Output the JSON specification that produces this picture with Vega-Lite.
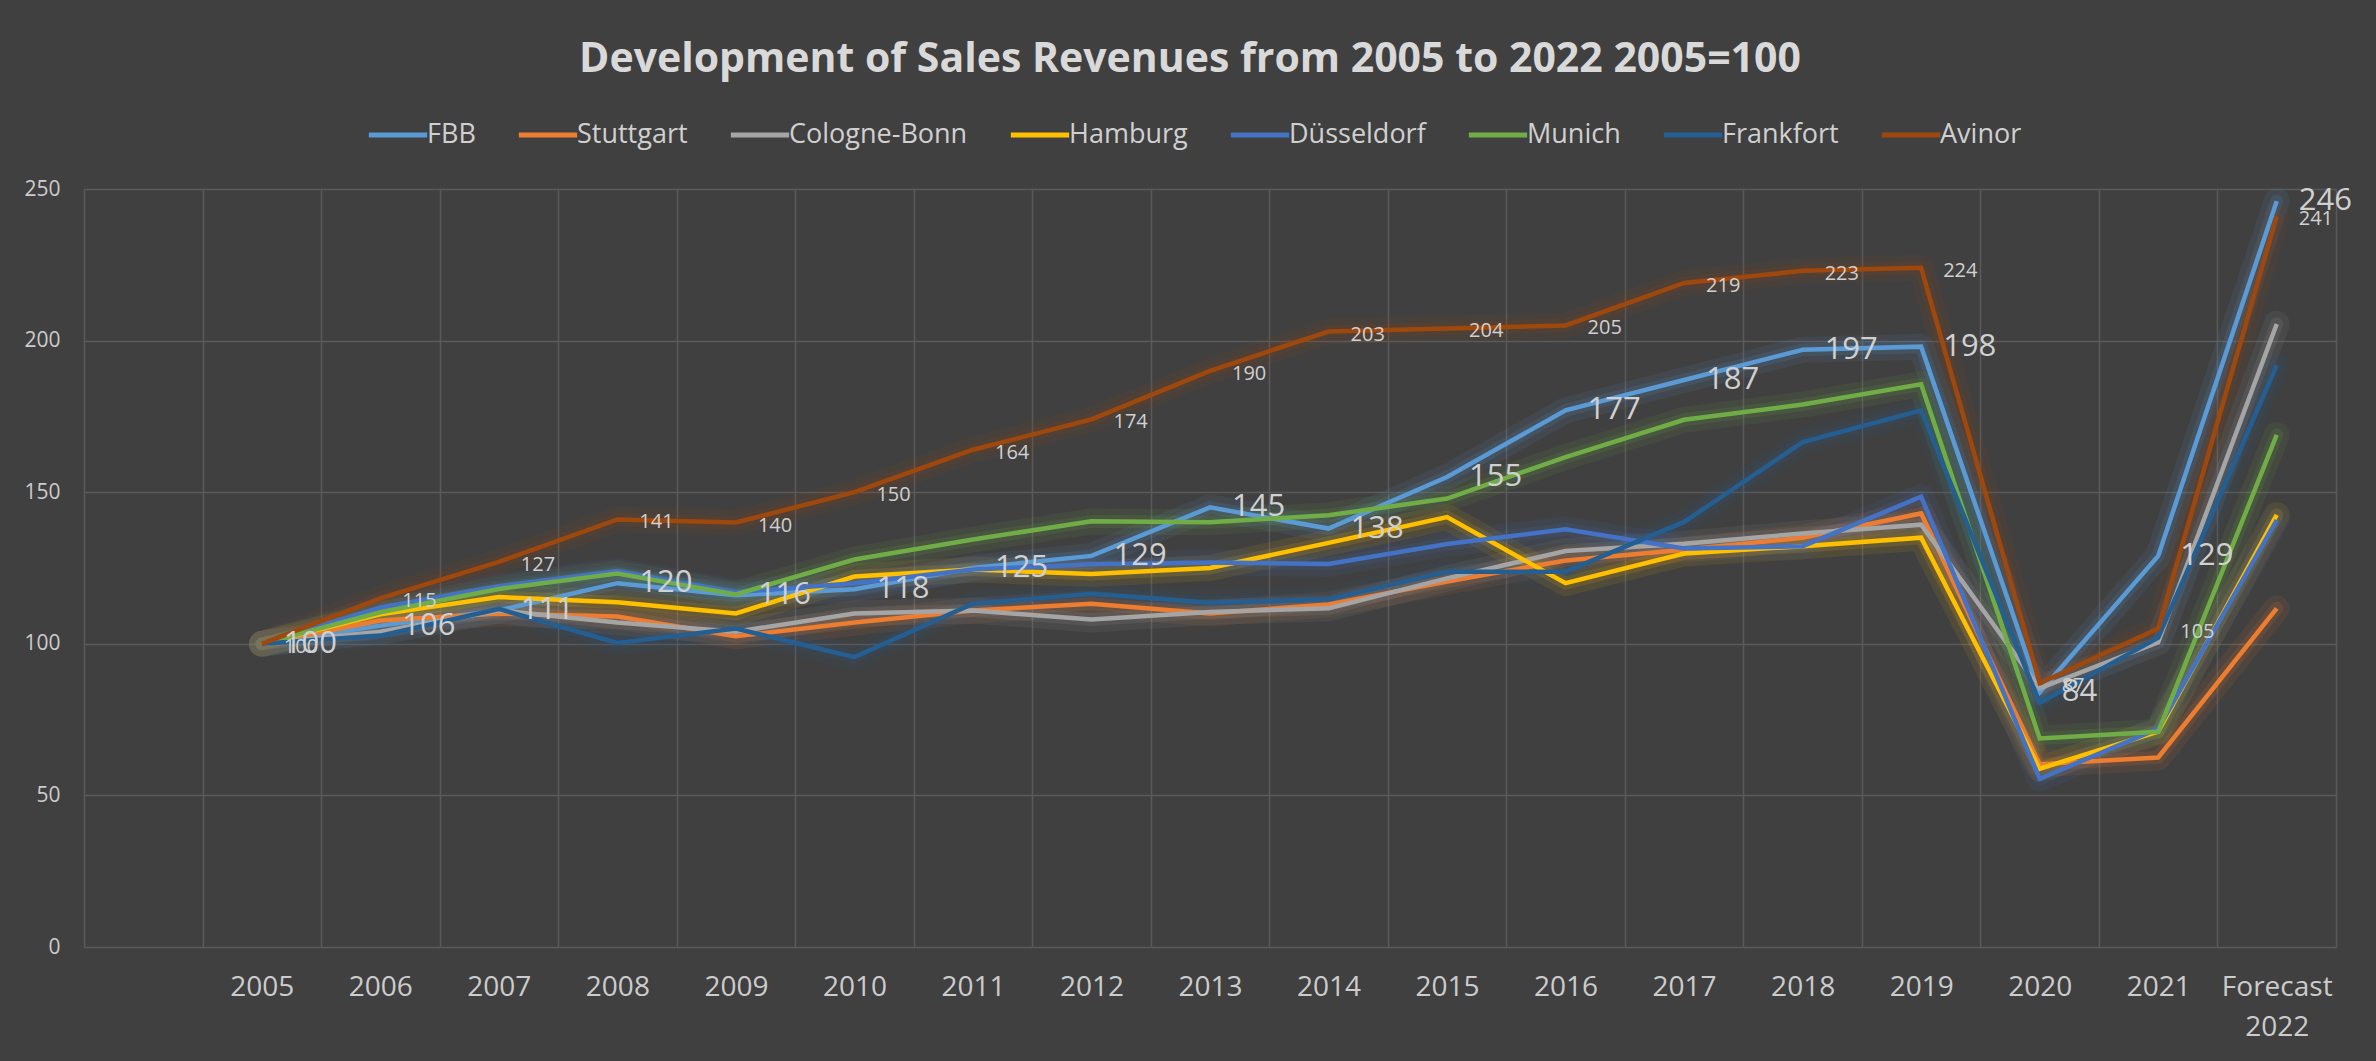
{
  "$schema": "https://vega.github.io/schema/vega-lite/v6.json",
  "autosize": {"type": "none"},
  "width": 2252,
  "height": 758,
  "padding": {"left": 84, "top": 189, "right": 40, "bottom": 114},
  "background": "#404040",
  "title": {
    "text": "Development of Sales Revenues from 2005 to 2022 2005=100",
    "font": "Open Sans",
    "fontSize": 41,
    "fontWeight": "bold",
    "color": "#d9d9d9",
    "anchor": "middle",
    "frame": "group",
    "baseline": "alphabetic",
    "dx": -20,
    "offset": -10
  },
  "config": {
    "view": {"stroke": null},
    "font": "Open Sans"
  },
  "data": {
    "values": [
      {"year": "2005", "airport": "FBB", "index": 100},
      {"year": "2006", "airport": "FBB", "index": 106},
      {"year": "2007", "airport": "FBB", "index": 111},
      {"year": "2008", "airport": "FBB", "index": 120},
      {"year": "2009", "airport": "FBB", "index": 116},
      {"year": "2010", "airport": "FBB", "index": 118},
      {"year": "2011", "airport": "FBB", "index": 125},
      {"year": "2012", "airport": "FBB", "index": 129},
      {"year": "2013", "airport": "FBB", "index": 145},
      {"year": "2014", "airport": "FBB", "index": 138},
      {"year": "2015", "airport": "FBB", "index": 155},
      {"year": "2016", "airport": "FBB", "index": 177},
      {"year": "2017", "airport": "FBB", "index": 187},
      {"year": "2018", "airport": "FBB", "index": 197},
      {"year": "2019", "airport": "FBB", "index": 198},
      {"year": "2020", "airport": "FBB", "index": 84},
      {"year": "2021", "airport": "FBB", "index": 129},
      {"year": "Forecast 2022", "airport": "FBB", "index": 246},
      {"year": "2005", "airport": "Stuttgart", "index": 100},
      {"year": "2006", "airport": "Stuttgart", "index": 107.7},
      {"year": "2007", "airport": "Stuttgart", "index": 110},
      {"year": "2008", "airport": "Stuttgart", "index": 109},
      {"year": "2009", "airport": "Stuttgart", "index": 102.5},
      {"year": "2010", "airport": "Stuttgart", "index": 107},
      {"year": "2011", "airport": "Stuttgart", "index": 111},
      {"year": "2012", "airport": "Stuttgart", "index": 113.2},
      {"year": "2013", "airport": "Stuttgart", "index": 110},
      {"year": "2014", "airport": "Stuttgart", "index": 113},
      {"year": "2015", "airport": "Stuttgart", "index": 120.5},
      {"year": "2016", "airport": "Stuttgart", "index": 127.5},
      {"year": "2017", "airport": "Stuttgart", "index": 131},
      {"year": "2018", "airport": "Stuttgart", "index": 135},
      {"year": "2019", "airport": "Stuttgart", "index": 143},
      {"year": "2020", "airport": "Stuttgart", "index": 60.3},
      {"year": "2021", "airport": "Stuttgart", "index": 62.5},
      {"year": "Forecast 2022", "airport": "Stuttgart", "index": 111.7},
      {"year": "2005", "airport": "Cologne-Bonn", "index": 100},
      {"year": "2006", "airport": "Cologne-Bonn", "index": 104},
      {"year": "2007", "airport": "Cologne-Bonn", "index": 111},
      {"year": "2008", "airport": "Cologne-Bonn", "index": 107},
      {"year": "2009", "airport": "Cologne-Bonn", "index": 104},
      {"year": "2010", "airport": "Cologne-Bonn", "index": 110},
      {"year": "2011", "airport": "Cologne-Bonn", "index": 111},
      {"year": "2012", "airport": "Cologne-Bonn", "index": 108},
      {"year": "2013", "airport": "Cologne-Bonn", "index": 110.5},
      {"year": "2014", "airport": "Cologne-Bonn", "index": 111.7},
      {"year": "2015", "airport": "Cologne-Bonn", "index": 121.6},
      {"year": "2016", "airport": "Cologne-Bonn", "index": 130.6},
      {"year": "2017", "airport": "Cologne-Bonn", "index": 133},
      {"year": "2018", "airport": "Cologne-Bonn", "index": 136.4},
      {"year": "2019", "airport": "Cologne-Bonn", "index": 139.3},
      {"year": "2020", "airport": "Cologne-Bonn", "index": 85.3},
      {"year": "2021", "airport": "Cologne-Bonn", "index": 100.5},
      {"year": "Forecast 2022", "airport": "Cologne-Bonn", "index": 205.5},
      {"year": "2005", "airport": "Hamburg", "index": 100},
      {"year": "2006", "airport": "Hamburg", "index": 109.7},
      {"year": "2007", "airport": "Hamburg", "index": 115.4},
      {"year": "2008", "airport": "Hamburg", "index": 113.7},
      {"year": "2009", "airport": "Hamburg", "index": 110},
      {"year": "2010", "airport": "Hamburg", "index": 122.2},
      {"year": "2011", "airport": "Hamburg", "index": 124.5},
      {"year": "2012", "airport": "Hamburg", "index": 123},
      {"year": "2013", "airport": "Hamburg", "index": 125},
      {"year": "2014", "airport": "Hamburg", "index": 133.3},
      {"year": "2015", "airport": "Hamburg", "index": 141.8},
      {"year": "2016", "airport": "Hamburg", "index": 120},
      {"year": "2017", "airport": "Hamburg", "index": 129.8},
      {"year": "2018", "airport": "Hamburg", "index": 132.2},
      {"year": "2019", "airport": "Hamburg", "index": 135},
      {"year": "2020", "airport": "Hamburg", "index": 58.8},
      {"year": "2021", "airport": "Hamburg", "index": 71},
      {"year": "Forecast 2022", "airport": "Hamburg", "index": 142.5},
      {"year": "2005", "airport": "Düsseldorf", "index": 100},
      {"year": "2006", "airport": "Düsseldorf", "index": 112},
      {"year": "2007", "airport": "Düsseldorf", "index": 119},
      {"year": "2008", "airport": "Düsseldorf", "index": 124},
      {"year": "2009", "airport": "Düsseldorf", "index": 117},
      {"year": "2010", "airport": "Düsseldorf", "index": 120},
      {"year": "2011", "airport": "Düsseldorf", "index": 124.5},
      {"year": "2012", "airport": "Düsseldorf", "index": 126.2},
      {"year": "2013", "airport": "Düsseldorf", "index": 126.8},
      {"year": "2014", "airport": "Düsseldorf", "index": 126.3},
      {"year": "2015", "airport": "Düsseldorf", "index": 132.9},
      {"year": "2016", "airport": "Düsseldorf", "index": 137.8},
      {"year": "2017", "airport": "Düsseldorf", "index": 131.4},
      {"year": "2018", "airport": "Düsseldorf", "index": 132.2},
      {"year": "2019", "airport": "Düsseldorf", "index": 148.5},
      {"year": "2020", "airport": "Düsseldorf", "index": 55.5},
      {"year": "2021", "airport": "Düsseldorf", "index": 72},
      {"year": "Forecast 2022", "airport": "Düsseldorf", "index": 140.8},
      {"year": "2005", "airport": "Munich", "index": 100},
      {"year": "2006", "airport": "Munich", "index": 110.4},
      {"year": "2007", "airport": "Munich", "index": 118.1},
      {"year": "2008", "airport": "Munich", "index": 123.2},
      {"year": "2009", "airport": "Munich", "index": 116.3},
      {"year": "2010", "airport": "Munich", "index": 127.8},
      {"year": "2011", "airport": "Munich", "index": 134.4},
      {"year": "2012", "airport": "Munich", "index": 140.4},
      {"year": "2013", "airport": "Munich", "index": 140.1},
      {"year": "2014", "airport": "Munich", "index": 142.4},
      {"year": "2015", "airport": "Munich", "index": 147.9},
      {"year": "2016", "airport": "Munich", "index": 161.6},
      {"year": "2017", "airport": "Munich", "index": 173.9},
      {"year": "2018", "airport": "Munich", "index": 178.9},
      {"year": "2019", "airport": "Munich", "index": 185.6},
      {"year": "2020", "airport": "Munich", "index": 68.8},
      {"year": "2021", "airport": "Munich", "index": 71},
      {"year": "Forecast 2022", "airport": "Munich", "index": 168.9},
      {"year": "2005", "airport": "Frankfort", "index": 100},
      {"year": "2006", "airport": "Frankfort", "index": 102.7},
      {"year": "2007", "airport": "Frankfort", "index": 111.5},
      {"year": "2008", "airport": "Frankfort", "index": 100.3},
      {"year": "2009", "airport": "Frankfort", "index": 105},
      {"year": "2010", "airport": "Frankfort", "index": 95.6},
      {"year": "2011", "airport": "Frankfort", "index": 113.2},
      {"year": "2012", "airport": "Frankfort", "index": 116.5},
      {"year": "2013", "airport": "Frankfort", "index": 113.5},
      {"year": "2014", "airport": "Frankfort", "index": 114.7},
      {"year": "2015", "airport": "Frankfort", "index": 123.8},
      {"year": "2016", "airport": "Frankfort", "index": 123.8},
      {"year": "2017", "airport": "Frankfort", "index": 140.2},
      {"year": "2018", "airport": "Frankfort", "index": 166.5},
      {"year": "2019", "airport": "Frankfort", "index": 177},
      {"year": "2020", "airport": "Frankfort", "index": 80.5},
      {"year": "2021", "airport": "Frankfort", "index": 102},
      {"year": "Forecast 2022", "airport": "Frankfort", "index": 191.8},
      {"year": "2005", "airport": "Avinor", "index": 100},
      {"year": "2006", "airport": "Avinor", "index": 115},
      {"year": "2007", "airport": "Avinor", "index": 127},
      {"year": "2008", "airport": "Avinor", "index": 141},
      {"year": "2009", "airport": "Avinor", "index": 140},
      {"year": "2010", "airport": "Avinor", "index": 150},
      {"year": "2011", "airport": "Avinor", "index": 164},
      {"year": "2012", "airport": "Avinor", "index": 174},
      {"year": "2013", "airport": "Avinor", "index": 190},
      {"year": "2014", "airport": "Avinor", "index": 203},
      {"year": "2015", "airport": "Avinor", "index": 204},
      {"year": "2016", "airport": "Avinor", "index": 205},
      {"year": "2017", "airport": "Avinor", "index": 219},
      {"year": "2018", "airport": "Avinor", "index": 223},
      {"year": "2019", "airport": "Avinor", "index": 224},
      {"year": "2020", "airport": "Avinor", "index": 87},
      {"year": "2021", "airport": "Avinor", "index": 105},
      {"year": "Forecast 2022", "airport": "Avinor", "index": 241}
    ]
  },
  "encoding": {
    "x": {
      "field": "year",
      "type": "ordinal",
      "bandPosition": 0.5,
      "scale": {
        "type": "band",
        "domain": ["", "2005", "2006", "2007", "2008", "2009", "2010", "2011", "2012", "2013", "2014", "2015", "2016", "2017", "2018", "2019", "2020", "2021", "Forecast 2022"],
        "paddingInner": 0,
        "paddingOuter": 0
      },
      "axis": {
        "title": null,
        "tickBand": "extent",
        "grid": true,
        "gridColor": "#5a5a5a",
        "gridWidth": 1.5,
        "domain": false,
        "ticks": false,
        "labelAngle": 0,
        "labelFont": "Open Sans",
        "labelFontSize": 28,
        "labelColor": "#cccccc",
        "labelPadding": 26,
        "labelOverlap": false,
        "labelLineHeight": 40,
        "labelExpr": "datum.label == 'Forecast 2022' ? ['Forecast', '2022'] : datum.label"
      }
    },
    "y": {
      "field": "index",
      "type": "quantitative",
      "scale": {"domain": [0, 250], "nice": false, "zero": true},
      "axis": {
        "title": null,
        "values": [0, 50, 100, 150, 200, 250],
        "grid": true,
        "gridColor": "#5a5a5a",
        "gridWidth": 1.5,
        "domain": false,
        "ticks": false,
        "labelFont": "Open Sans",
        "labelFontSize": 21,
        "labelColor": "#cccccc",
        "labelPadding": 24
      }
    }
  },
  "layer": [
    {
      "mark": {"type": "line", "strokeWidth": 26, "opacity": 0.09, "strokeJoin": "round", "strokeCap": "round"},
      "encoding": {
        "color": {
          "field": "airport",
          "type": "nominal",
          "scale": {
            "domain": ["FBB", "Stuttgart", "Cologne-Bonn", "Hamburg", "Düsseldorf", "Munich", "Frankfort", "Avinor"],
            "range": ["#5B9BD5", "#ED7D31", "#A5A5A5", "#FFC000", "#4472C4", "#70AD47", "#255E91", "#9E480E"]
          },
          "legend": null
        }
      }
    },
    {
      "mark": {"type": "line", "strokeWidth": 13, "opacity": 0.13, "strokeJoin": "round", "strokeCap": "round"},
      "encoding": {
        "color": {
          "field": "airport",
          "type": "nominal",
          "scale": {
            "domain": ["FBB", "Stuttgart", "Cologne-Bonn", "Hamburg", "Düsseldorf", "Munich", "Frankfort", "Avinor"],
            "range": ["#5B9BD5", "#ED7D31", "#A5A5A5", "#FFC000", "#4472C4", "#70AD47", "#255E91", "#9E480E"]
          },
          "legend": null
        }
      }
    },
    {
      "mark": {"type": "line", "strokeWidth": 4.5},
      "encoding": {
        "color": {
          "field": "airport",
          "type": "nominal",
          "scale": {
            "domain": ["FBB", "Stuttgart", "Cologne-Bonn", "Hamburg", "Düsseldorf", "Munich", "Frankfort", "Avinor"],
            "range": ["#5B9BD5", "#ED7D31", "#A5A5A5", "#FFC000", "#4472C4", "#70AD47", "#255E91", "#9E480E"]
          },
          "legend": {
            "title": null,
            "orient": "none",
            "legendX": 282,
            "legendY": -86,
            "direction": "horizontal",
            "columns": 8,
            "symbolType": "stroke",
            "symbolSize": 3400,
            "symbolStrokeWidth": 5,
            "symbolOpacity": 1,
            "labelFont": "Open Sans",
            "labelFontSize": 27,
            "labelColor": "#d0d0d0",
            "labelLimit": 400,
            "labelOffset": -3,
            "columnPadding": 32,
            "padding": 0
          }
        }
      }
    },
    {
      "transform": [{"filter": "datum.airport == 'FBB'"}],
      "mark": {"type": "text", "align": "left", "baseline": "middle", "dx": 22, "font": "Open Sans", "fontSize": 31, "color": "#d0d0d0"},
      "encoding": {"text": {"field": "index", "type": "quantitative", "format": ".0f"}}
    },
    {
      "transform": [{"filter": "datum.airport == 'Avinor'"}],
      "mark": {"type": "text", "align": "left", "baseline": "middle", "dx": 22, "dy": 3, "font": "Open Sans", "fontSize": 20, "color": "#d0d0d0"},
      "encoding": {"text": {"field": "index", "type": "quantitative", "format": ".0f"}}
    }
  ],
  "resolve": {"legend": {"color": "independent"}}
}
